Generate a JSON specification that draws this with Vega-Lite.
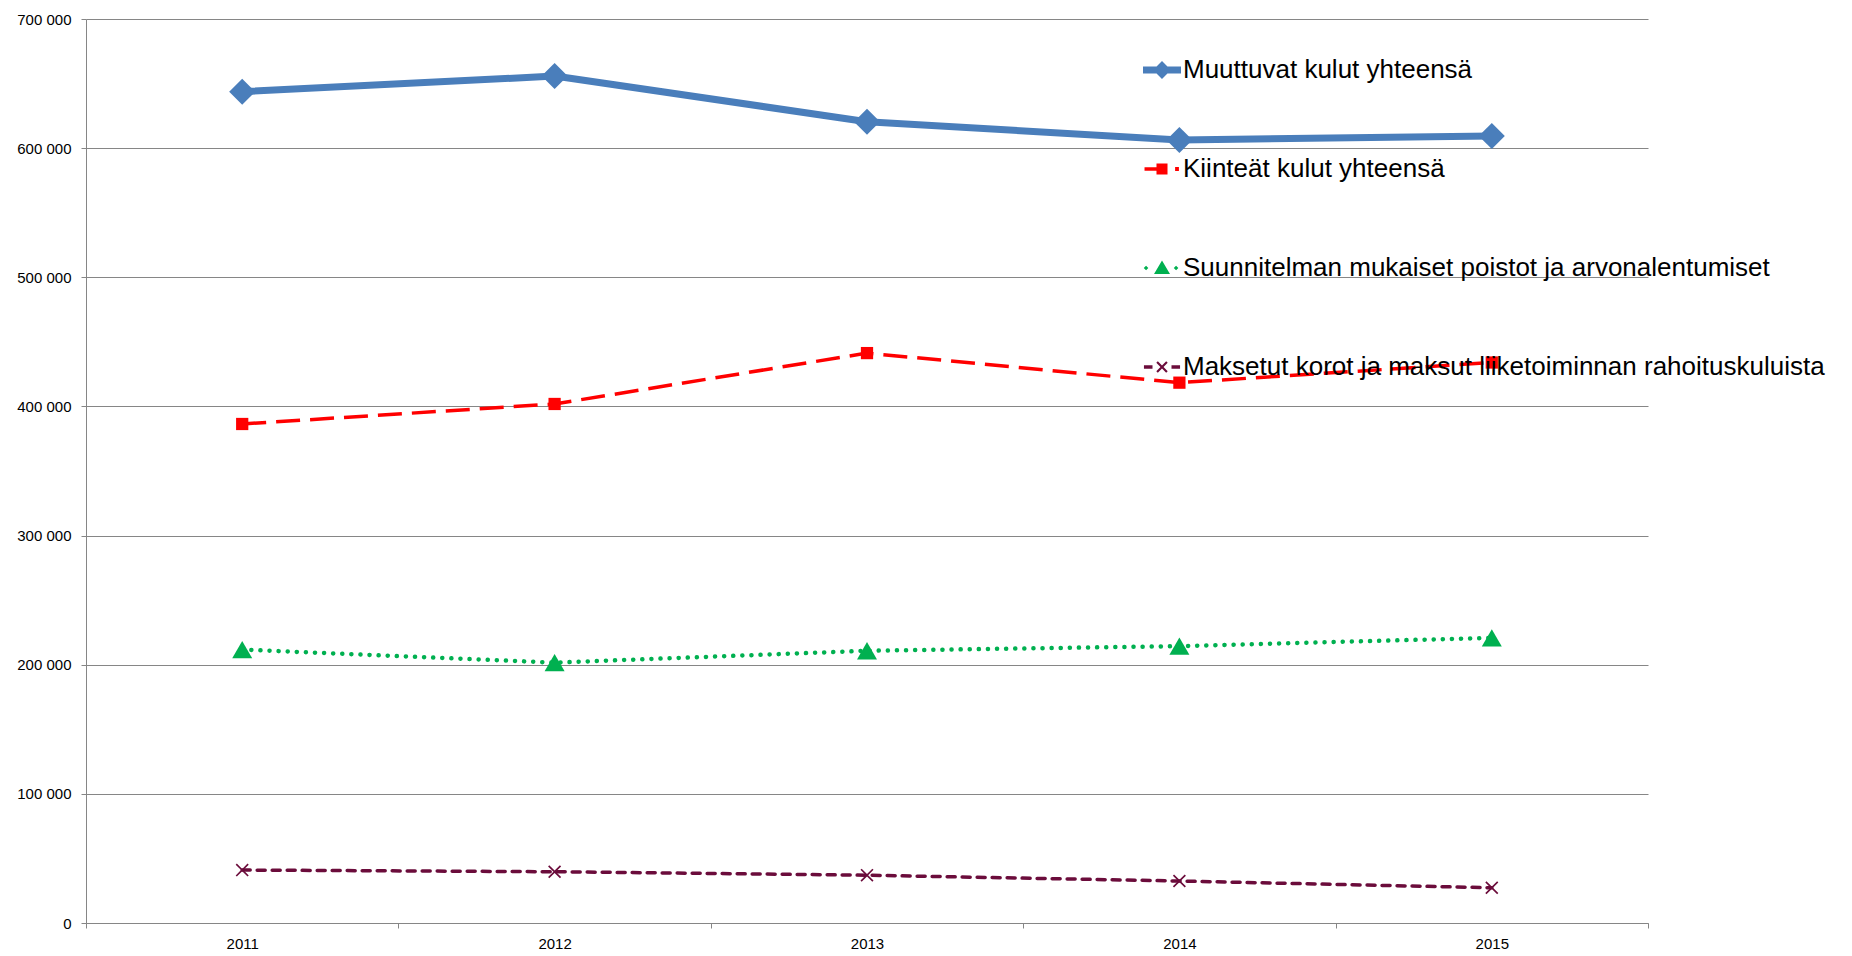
{
  "$schema": "https://vega.github.io/schema/vega-lite/v6.json",
  "width": 1562,
  "height": 904,
  "autosize": {"type": "none"},
  "padding": {"left": 86, "top": 19, "right": 204, "bottom": 33},
  "background": "white",
  "config": {
    "view": {"stroke": null},
    "locale": {"number": {"decimal": ",", "thousands": " ", "grouping": [3], "currency": ["", " €"]}},
    "axis": {"labelFont": "Liberation Sans", "labelFontSize": 15, "labelColor": "#000000", "domainColor": "#868686", "tickColor": "#868686", "gridColor": "#868686", "title": null}
  },
  "data": {
    "values": [
      {"year": "2011", "series": "Muuttuvat kulut yhteensä", "value": 643700},
      {"year": "2012", "series": "Muuttuvat kulut yhteensä", "value": 655800},
      {"year": "2013", "series": "Muuttuvat kulut yhteensä", "value": 620500},
      {"year": "2014", "series": "Muuttuvat kulut yhteensä", "value": 606300},
      {"year": "2015", "series": "Muuttuvat kulut yhteensä", "value": 609400},
      {"year": "2011", "series": "Kiinteät kulut yhteensä", "value": 386400},
      {"year": "2012", "series": "Kiinteät kulut yhteensä", "value": 401900},
      {"year": "2013", "series": "Kiinteät kulut yhteensä", "value": 441300},
      {"year": "2014", "series": "Kiinteät kulut yhteensä", "value": 418400},
      {"year": "2015", "series": "Kiinteät kulut yhteensä", "value": 434000},
      {"year": "2011", "series": "Suunnitelman mukaiset poistot ja arvonalentumiset", "value": 211700},
      {"year": "2012", "series": "Suunnitelman mukaiset poistot ja arvonalentumiset", "value": 201600},
      {"year": "2013", "series": "Suunnitelman mukaiset poistot ja arvonalentumiset", "value": 210800},
      {"year": "2014", "series": "Suunnitelman mukaiset poistot ja arvonalentumiset", "value": 214400},
      {"year": "2015", "series": "Suunnitelman mukaiset poistot ja arvonalentumiset", "value": 220800},
      {"year": "2011", "series": "Maksetut korot ja maksut liiketoiminnan rahoituskuluista", "value": 41000},
      {"year": "2012", "series": "Maksetut korot ja maksut liiketoiminnan rahoituskuluista", "value": 39700},
      {"year": "2013", "series": "Maksetut korot ja maksut liiketoiminnan rahoituskuluista", "value": 37000},
      {"year": "2014", "series": "Maksetut korot ja maksut liiketoiminnan rahoituskuluista", "value": 32500},
      {"year": "2015", "series": "Maksetut korot ja maksut liiketoiminnan rahoituskuluista", "value": 27300}
    ]
  },
  "encoding": {
    "x": {"field": "year", "type": "ordinal", "bandPosition": 0.5,
      "scale": {"type": "band", "paddingInner": 0, "paddingOuter": 0},
      "axis": {"labelAngle": 0, "tickBand": "extent", "tickSize": 5, "labelPadding": 8, "grid": false}},
    "y": {"field": "value", "type": "quantitative",
      "scale": {"domain": [0, 700000], "nice": false},
      "axis": {"values": [0, 100000, 200000, 300000, 400000, 500000, 600000, 700000], "format": ",d", "grid": true, "tickSize": 5, "labelPadding": 10}}
  },
  "layer": [
    {
      "transform": [{"filter": "datum.series === 'Muuttuvat kulut yhteensä'"}],
      "mark": {"type": "line", "stroke": "#4a7ebb", "strokeWidth": 7, "strokeCap": "round", "strokeJoin": "round"},
      "encoding": {}
    },
    {
      "transform": [{"filter": "datum.series === 'Kiinteät kulut yhteensä'"}],
      "mark": {"type": "line", "stroke": "#ff0000", "strokeWidth": 3.5, "strokeDash": [24, 10]},
      "encoding": {}
    },
    {
      "transform": [{"filter": "datum.series === 'Suunnitelman mukaiset poistot ja arvonalentumiset'"}],
      "mark": {"type": "line", "stroke": "#00b050", "strokeWidth": 4.5, "strokeCap": "round", "strokeDash": [0.1, 9]},
      "encoding": {}
    },
    {
      "transform": [{"filter": "datum.series === 'Maksetut korot ja maksut liiketoiminnan rahoituskuluista'"}],
      "mark": {"type": "line", "stroke": "#6b0c3b", "strokeWidth": 3.5, "strokeCap": "round", "strokeDash": [8, 7]},
      "encoding": {}
    },
    {
      "transform": [{"filter": "datum.series === 'Muuttuvat kulut yhteensä'"}],
      "mark": {"type": "point", "filled": true, "opacity": 1, "fill": "#4a7ebb", "shape": "diamond", "size": 680},
      "encoding": {}
    },
    {
      "transform": [{"filter": "datum.series === 'Kiinteät kulut yhteensä'"}],
      "mark": {"type": "point", "filled": true, "opacity": 1, "fill": "#ff0000", "shape": "square", "size": 150},
      "encoding": {}
    },
    {
      "transform": [{"filter": "datum.series === 'Suunnitelman mukaiset poistot ja arvonalentumiset'"}],
      "mark": {"type": "point", "filled": true, "opacity": 1, "fill": "#00b050", "shape": "triangle-up", "size": 400},
      "encoding": {}
    },
    {
      "transform": [{"filter": "datum.series === 'Maksetut korot ja maksut liiketoiminnan rahoituskuluista'"}],
      "mark": {"type": "point", "filled": true, "opacity": 1, "fill": "#6b0c3b", "size": 170,
        "shape": "M-1,-0.82L-0.82,-1L0,-0.18L0.82,-1L1,-0.82L0.18,0L1,0.82L0.82,1L0,0.18L-0.82,1L-1,0.82L-0.18,0Z"},
      "encoding": {}
    },
    {
      "transform": [{"filter": "datum.value < 0"}],
      "mark": {"type": "point", "filled": true, "opacity": 1},
      "encoding": {
        "color": {"field": "series", "type": "nominal", "sort": null,
          "scale": {"domain": ["Muuttuvat kulut yhteensä", "Kiinteät kulut yhteensä", "Suunnitelman mukaiset poistot ja arvonalentumiset", "Maksetut korot ja maksut liiketoiminnan rahoituskuluista"], "range": ["#4a7ebb", "#ff0000", "#00b050", "#6b0c3b"]},
          "legend": {"orient": "none", "legendX": 1057, "legendY": 32, "title": null, "padding": 0,
            "labelFont": "Liberation Sans", "labelFontSize": 26, "labelColor": "#000000",
            "rowPadding": 67, "labelLimit": 900, "labelOffset": 2, "symbolSize": 1444, "symbolStrokeWidth": 0, "symbolOpacity": 1}},
        "shape": {"field": "series", "type": "nominal", "sort": null,
          "scale": {"domain": ["Muuttuvat kulut yhteensä", "Kiinteät kulut yhteensä", "Suunnitelman mukaiset poistot ja arvonalentumiset", "Maksetut korot ja maksut liiketoiminnan rahoituskuluista"],
            "range": [
              "M-1,-0.18L1,-0.18L1,0.18L-1,0.18Z M-0.47,0L0,-0.47L0.47,0L0,0.47Z",
              "M-0.92,-0.09L-0.25,-0.09L-0.25,0.09L-0.92,0.09Z M-0.29,-0.29L0.29,-0.29L0.29,0.29L-0.29,0.29Z M0.69,-0.1L0.89,-0.1L0.89,0.1L0.69,0.1Z",
              "M-0.96,0L-0.84,-0.12L-0.72,0L-0.84,0.12Z M-0.42,0.32L0,-0.4L0.42,0.32Z M0.62,0L0.74,-0.12L0.86,0L0.74,0.12Z",
              "M-0.95,-0.09L-0.5,-0.09L-0.5,0.09L-0.95,0.09Z M-0.3,-0.22L-0.22,-0.3L0,-0.08L0.22,-0.3L0.3,-0.22L0.08,0L0.3,0.22L0.22,0.3L0,0.08L-0.22,0.3L-0.3,0.22L-0.08,0Z M0.5,-0.09L0.95,-0.09L0.95,0.09L0.5,0.09Z"
            ]}}
      }
    }
  ]
}
